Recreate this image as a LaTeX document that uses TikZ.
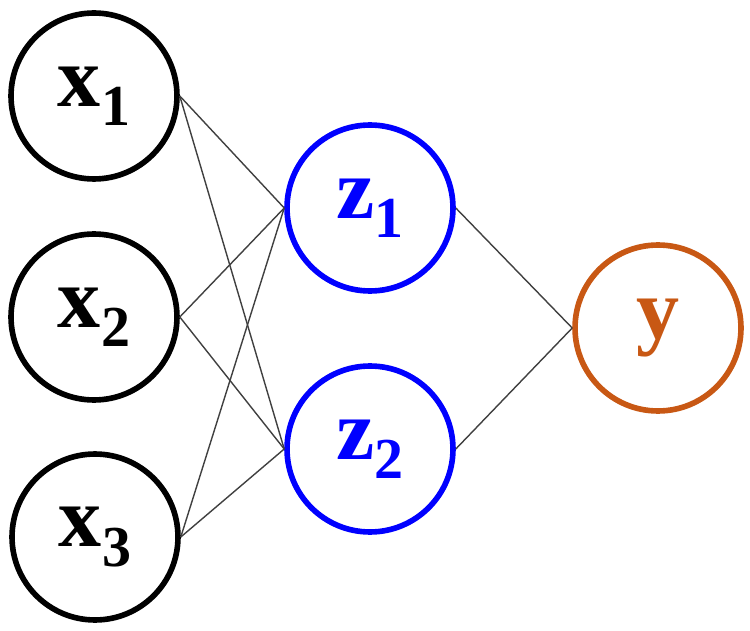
\documentclass[tikz,border=0pt]{standalone}
\usepackage{fontspec}
\setmainfont{Liberation Serif}
\usepackage{xcolor}
\usepackage{tikz}
\definecolor{outcol}{RGB}{200,88,20}
\newcommand{\sublbl}[2]{#1\raisebox{-11pt}{\fontsize{33}{40}\selectfont #2}}

\begin{document}
\begin{tikzpicture}[x=0.02cm,y=-0.02cm]
		\useasboundingbox (0,0) rectangle (750,631);
		\tikzstyle{every node}+=[draw,line width=3.2pt,circle,inner sep=0pt,minimum size=3.32cm,font=\fontsize{49}{58}\selectfont\bfseries]
		\tikzstyle{hid}=[draw=blue,text=blue]
		\tikzstyle{outp}=[draw=outcol,text=outcol]
		\node (x1) at (94,96)  {\sublbl{x}{1}};
		\node (x2) at (94,317) {\sublbl{x}{2}};
		\node (x3) at (95,537) {\sublbl{x}{3}};
		\node[hid] (z1) at (370,208) {\sublbl{z}{1}};
		\node[hid] (z2) at (370,449) {\sublbl{z}{2}};
		\node[outp] (y) at (658,328) {y};
		\tikzstyle{every edge}+=[line width=0.8pt,black!75]
		\draw
		(x1.east) edge (z1.west) edge (z2.west)
		(x2.east) edge (z1.west) edge (z2.west)
		(x3.east) edge (z1.west) edge (z2.west)
		(z1.east) edge (y.west)
		(z2.east) edge (y.west)
		;
	\end{tikzpicture}
\end{document}
